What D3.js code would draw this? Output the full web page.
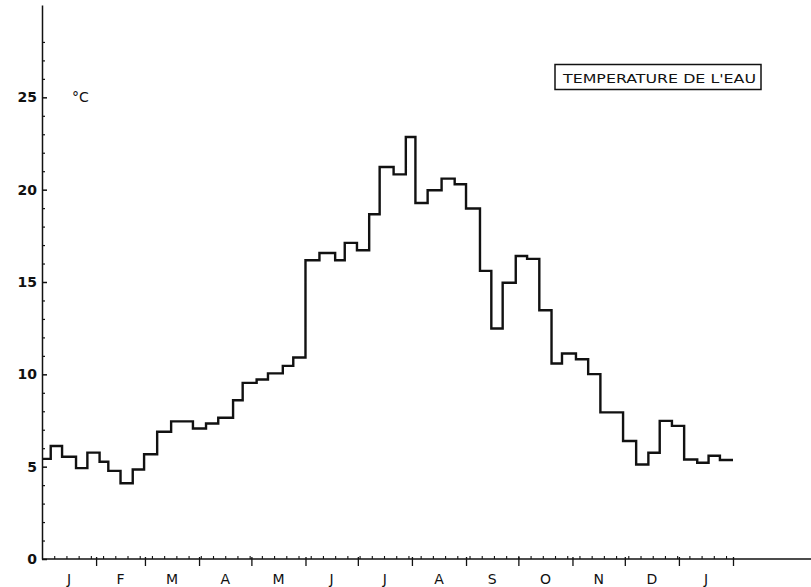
<!DOCTYPE html>
<html><head><meta charset="utf-8">
<script src="https://cdn.jsdelivr.net/npm/d3@7"></script>
<style>body{margin:0;background:#fff}svg{display:block}</style>
</head><body>
<script>
// Step start (day counted from 1 January) and water temperature (°C)
const stepStartDays = [0,5,11.5,19.5,26,33,38,45,52,58.5,66,74,86.5,94,101,109.5,115,123,129.5,138,144,
  151,159,168,173.5,180.5,187.5,193.5,201.5,208.5,214,221,229,236.5,243,251,257.5,264,271.5,278,285,292,298,
  306,313,320,333,340.5,347.5,354,361,368,375.5,382,388.5];
const temperatures = [5.42,6.12,5.54,4.92,5.76,5.27,4.77,4.1,4.85,5.67,6.89,7.45,7.07,7.34,7.65,8.6,9.54,9.72,10.05,10.46,10.91,
  16.18,16.57,16.18,17.12,16.72,18.67,21.23,20.83,22.85,19.28,19.97,20.6,20.29,18.98,15.6,12.48,14.96,16.41,16.25,13.47,10.59,11.13,
  10.82,10.01,7.94,6.39,5.12,5.75,7.48,7.21,5.39,5.21,5.59,5.36];
const lastDay = 396;
const monthLabels = ["J","F","M","A","M","J","J","A","S","O","N","D","J"];
const monthStartDays = [0,31,59,90,120,151,181,212,243,273,304,334,365,396];
const yMajorTicks = [0,5,10,15,20,25];
const unitLabel = "°C";
const legendTitle = "TEMPERATURE DE L'EAU";

const W = 811, H = 587;
const svg = d3.select("body").append("svg").attr("width", W).attr("height", H);
const x = d3.scaleLinear().domain([0, lastDay]).range([42, 733]);
const y = d3.scaleLinear().domain([0, 30]).range([559, 5]);
const ink = "#111";

// Y axis
const yAxis = d3.axisLeft(y).tickValues(yMajorTicks).tickSizeInner(-5).tickSizeOuter(0).tickPadding(5)
  .tickFormat(d3.format("d"));
const gy = svg.append("g").attr("transform", `translate(${x(0)},0)`).call(yAxis);
gy.select(".domain").attr("stroke", ink).attr("stroke-width", 1.5);
gy.selectAll(".tick line").attr("stroke", ink).attr("stroke-width", 1.5);
gy.selectAll(".tick text").attr("fill", ink).style("font-family", "DejaVu Sans").style("font-size", "14px")
  .style("font-weight", "bold");
const yMinor = d3.axisLeft(y).tickValues(d3.range(1, 29).filter(v => v % 5 !== 0)).tickSizeInner(-3).tickSizeOuter(0).tickFormat("");
const gym = svg.append("g").attr("transform", `translate(${x(0)},0)`).call(yMinor);
gym.select(".domain").remove();
gym.selectAll(".tick line").attr("stroke", ink).attr("stroke-width", 1.2);

// X axis
svg.append("line").attr("x1", x(0)).attr("x2", W).attr("y1", y(0)).attr("y2", y(0))
  .attr("stroke", ink).attr("stroke-width", 1.6);
const weekTicks = d3.range(7, lastDay, 7);
const xMinor = d3.axisTop(x).tickValues(weekTicks).tickSizeInner(3).tickSizeOuter(0).tickFormat("");
const gxm = svg.append("g").attr("transform", `translate(0,${y(0)})`).call(xMinor);
gxm.select(".domain").remove();
gxm.selectAll(".tick line").attr("stroke", ink).attr("stroke-width", 1.1);
const xMonth = d3.axisBottom(x).tickValues(monthStartDays.slice(1)).tickSizeInner(7).tickSizeOuter(0).tickFormat("");
const gxM = svg.append("g").attr("transform", `translate(0,${y(0)})`).call(xMonth);
gxM.select(".domain").remove();
gxM.selectAll(".tick line").attr("stroke", ink).attr("stroke-width", 1.3).attr("y1", -2);

svg.append("g").selectAll("text").data(monthLabels).join("text")
  .attr("x", (d, i) => x((monthStartDays[i] + monthStartDays[i + 1]) / 2))
  .attr("y", 584).attr("text-anchor", "middle")
  .style("font-family", "DejaVu Sans").style("font-size", "14px").attr("fill", ink)
  .text(d => d);

// unit
svg.append("text").attr("x", 72).attr("y", y(25) + 5).text(unitLabel)
  .style("font-family", "DejaVu Sans").style("font-size", "14px").attr("fill", ink);

// step line
const pts = stepStartDays.map((d, i) => [d, temperatures[i]]);
pts.push([lastDay, temperatures[temperatures.length - 1]]);
const line = d3.line().x(d => x(d[0])).y(d => y(d[1])).curve(d3.curveStepAfter);
svg.append("path").datum(pts).attr("d", line).attr("fill", "none").attr("stroke", ink)
  .attr("stroke-width", 2.4).attr("stroke-linejoin", "miter");

// legend box
const lg = svg.append("g");
lg.append("rect").attr("x", 555).attr("y", 64.5).attr("width", 206).attr("height", 25)
  .attr("fill", "none").attr("stroke", ink).attr("stroke-width", 1.5);
lg.append("text").attr("x", 563).attr("y", 83).text(legendTitle)
  .attr("textLength", 193).attr("lengthAdjust", "spacingAndGlyphs")
  .style("font-family", "DejaVu Sans").style("font-size", "13px").attr("fill", ink);
</script>
</body></html>
